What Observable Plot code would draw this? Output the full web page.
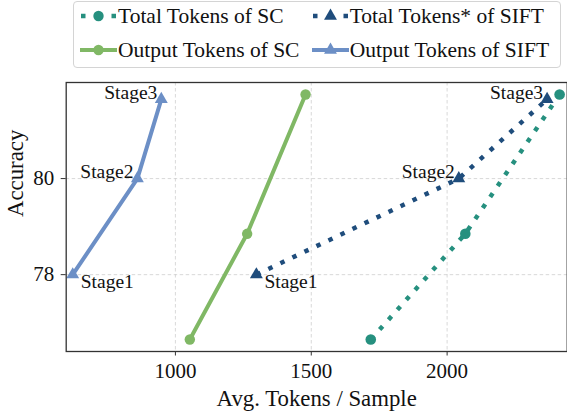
<!DOCTYPE html>
<html><head><meta charset="utf-8">
<script src="https://cdn.jsdelivr.net/npm/d3@7"></script>
<script src="https://cdn.jsdelivr.net/npm/@observablehq/plot@0.6"></script>
<style>
body{margin:0;background:#fff;color:#111;}
#legend{position:relative;height:80px;width:567px;}
.box{position:absolute;left:72.5px;top:1px;width:488px;height:67px;border:1px solid #d4d4d4;border-radius:4px;box-sizing:border-box;}
.item{position:absolute;display:flex;align-items:center;white-space:nowrap;height:30px;line-height:30px;}
.item svg{display:block;flex:none;}
</style></head><body>
<div id="legend"><div class="box"></div></div>
<div id="chart"></div>
<script>
// ---- data ----
const stages = ["Stage1", "Stage2", "Stage3"];
const accSIFT = [78.0, 80.0, 81.65];
const accSC = [76.65, 78.85, 81.75];
const siftOutputTokens = [622, 860, 948];
const siftTotalTokens = [1298, 2043, 2368];
const scOutputTokens = [1053, 1264, 1479];
const scTotalTokens = [1719, 2067, 2414];
const xTicks = [1000, 1500, 2000];
const yTicks = [78, 80];
const seriesNames = ["Total Tokens of SC", "Total Tokens* of SIFT", "Output Tokens of SC", "Output Tokens of SIFT"];
const xLabel = "Avg. Tokens / Sample";
const yLabel = "Accuracy";

// ---- font selection (Times-like serif) ----
const ctx = document.createElement("canvas").getContext("2d");
function w(f, s) { ctx.font = f; return ctx.measureText(s).width; }
const probe = "Total Tokens of SC mmmWWWiii";
const candidates = ["Liberation Serif", "Times New Roman", "Tinos", "Nimbus Roman", "Nimbus Roman No9 L", "FreeSerif", "Times", "DejaVu Serif"];
let chosen = null;
for (const c of candidates) {
  if (w(`20px "${c}", monospace`, probe) !== w("20px monospace", probe) ||
      w(`20px "${c}", sans-serif`, probe) !== w("20px sans-serif", probe)) { chosen = c; break; }
}
const font = chosen ? `"${chosen}", serif` : "serif";
// scale so that the legend text width matches the reference (about 169px at 21.5px Times)
const measured = w(`21.5px ${font}`, seriesNames[0]);
const k = Math.min(1, 169 / measured);
const fs = s => s * k;

// ---- styles ----
const cTeal = "#26907f", cDark = "#1f4d7c", cGreen = "#80b865", cLight = "#6c8fc6";

const sift = stages.map((s, i) => ({stage: s, acc: accSIFT[i], out: siftOutputTokens[i], tot: siftTotalTokens[i], i}));
const sc = stages.map((s, i) => ({stage: s, acc: accSC[i], out: scOutputTokens[i], tot: scTotalTokens[i], i}));

const dotted = {strokeWidth: 4.5, strokeDasharray: "4.5,8.8", strokeLinecap: "butt"};
const lab = {text: "stage", fontSize: fs(19.5), fill: "#111"};

const chart = Plot.plot({
  width: 567, height: 334,
  marginLeft: 65.7, marginRight: 0.3, marginTop: 2, marginBottom: 63,
  style: {fontFamily: font, background: "white", color: "#111"},
  x: {domain: [598, 2442]},
  y: {domain: [76.4, 82.0]},
  marks: [
    Plot.gridX(xTicks, {stroke: "#cfcfcf", strokeOpacity: 1, strokeWidth: 0.8, strokeDasharray: "3.5,2.5"}),
    Plot.gridY(yTicks, {stroke: "#cfcfcf", strokeOpacity: 1, strokeWidth: 0.8, strokeDasharray: "3.5,2.5"}),
    Plot.line(sift, {x: "out", y: "acc", stroke: cLight, strokeWidth: 4}),
    Plot.dot(sift, {x: "out", y: "acc", symbol: "triangle", r: 4.8, fill: cLight}),
    Plot.line(sc, {x: "out", y: "acc", stroke: cGreen, strokeWidth: 4}),
    Plot.dot(sc, {x: "out", y: "acc", r: 5.2, fill: cGreen}),
    Plot.line(sift, {x: "tot", y: "acc", stroke: cDark, ...dotted}),
    Plot.dot(sift, {x: "tot", y: "acc", symbol: "triangle", r: 4.8, fill: cDark}),
    Plot.line(sc, {x: "tot", y: "acc", stroke: cTeal, ...dotted}),
    Plot.dot(sc, {x: "tot", y: "acc", r: 5.3, fill: cTeal}),
    // stage labels
    Plot.text(sift.filter(d => d.i === 0), {x: "out", y: "acc", textAnchor: "start", dx: 8, dy: 7, ...lab}),
    Plot.text(sift.filter(d => d.i > 0), {x: "out", y: "acc", textAnchor: "end", dx: -4, dy: -7, ...lab}),
    Plot.text(sift.filter(d => d.i === 0), {x: "tot", y: "acc", textAnchor: "start", dx: 8, dy: 7, ...lab}),
    Plot.text(sift.filter(d => d.i > 0), {x: "tot", y: "acc", textAnchor: "end", dx: -4, dy: -7, ...lab}),
    Plot.frame({stroke: "#333", strokeWidth: 1.3}),
    Plot.axisX(xTicks, {tickSize: 4.5, tickPadding: 7, fontSize: fs(21), label: null, tickFormat: d => String(d), stroke: "#333", fill: "#111"}),
    Plot.axisY(yTicks, {tickSize: 5, tickPadding: 7, fontSize: fs(21), label: null, tickFormat: d => String(d), stroke: "#333", fill: "#111"}),
    Plot.text([xLabel], {frameAnchor: "bottom", dy: 47, lineAnchor: "middle", fontSize: fs(22.8), fill: "#111"}),
    Plot.text([yLabel], {frameAnchor: "left", dx: -50.7, rotate: -90, fontSize: fs(22.8), fill: "#111"})
  ]
});
document.getElementById("chart").appendChild(chart);

// ---- legend ----
const legendItems = [
  {name: seriesNames[0], color: cTeal, dotted: true, sym: "circle", left: 80, top: 0.7},
  {name: seriesNames[1], color: cDark, dotted: true, sym: "triangle", left: 311.7, top: 0.7},
  {name: seriesNames[2], color: cGreen, dotted: false, sym: "circle", left: 80, top: 35},
  {name: seriesNames[3], color: cLight, dotted: false, sym: "triangle", left: 311.7, top: 35}
];
const legend = document.getElementById("legend");
legend.style.fontFamily = font;
for (const it of legendItems) {
  const div = document.createElement("div");
  div.className = "item";
  div.style.left = it.left + "px";
  div.style.top = it.top + "px";
  div.style.fontSize = fs(21.5) + "px";
  const cy = 15, cx = 18.5;
  const lineSvg = it.dotted
    ? `<line x1="1" x2="36" y1="${cy}" y2="${cy}" stroke="${it.color}" stroke-width="4.5" stroke-dasharray="4.5,26"/>`
    : `<line x1="0" x2="37" y1="${cy}" y2="${cy}" stroke="${it.color}" stroke-width="4"/>`;
  const sym = it.sym === "circle"
    ? `<circle cx="${cx}" cy="${cy}" r="5.2" fill="${it.color}"/>`
    : `<path transform="translate(${cx},${cy})" d="${d3.symbol(d3.symbolTriangle, Math.PI * 4.8 * 4.8)()}" fill="${it.color}"/>`;
  div.innerHTML = `<svg width="37" height="30">${lineSvg}${sym}</svg><span style="margin-left:1px">${it.name}</span>`;
  legend.appendChild(div);
}
</script>
</body></html>
